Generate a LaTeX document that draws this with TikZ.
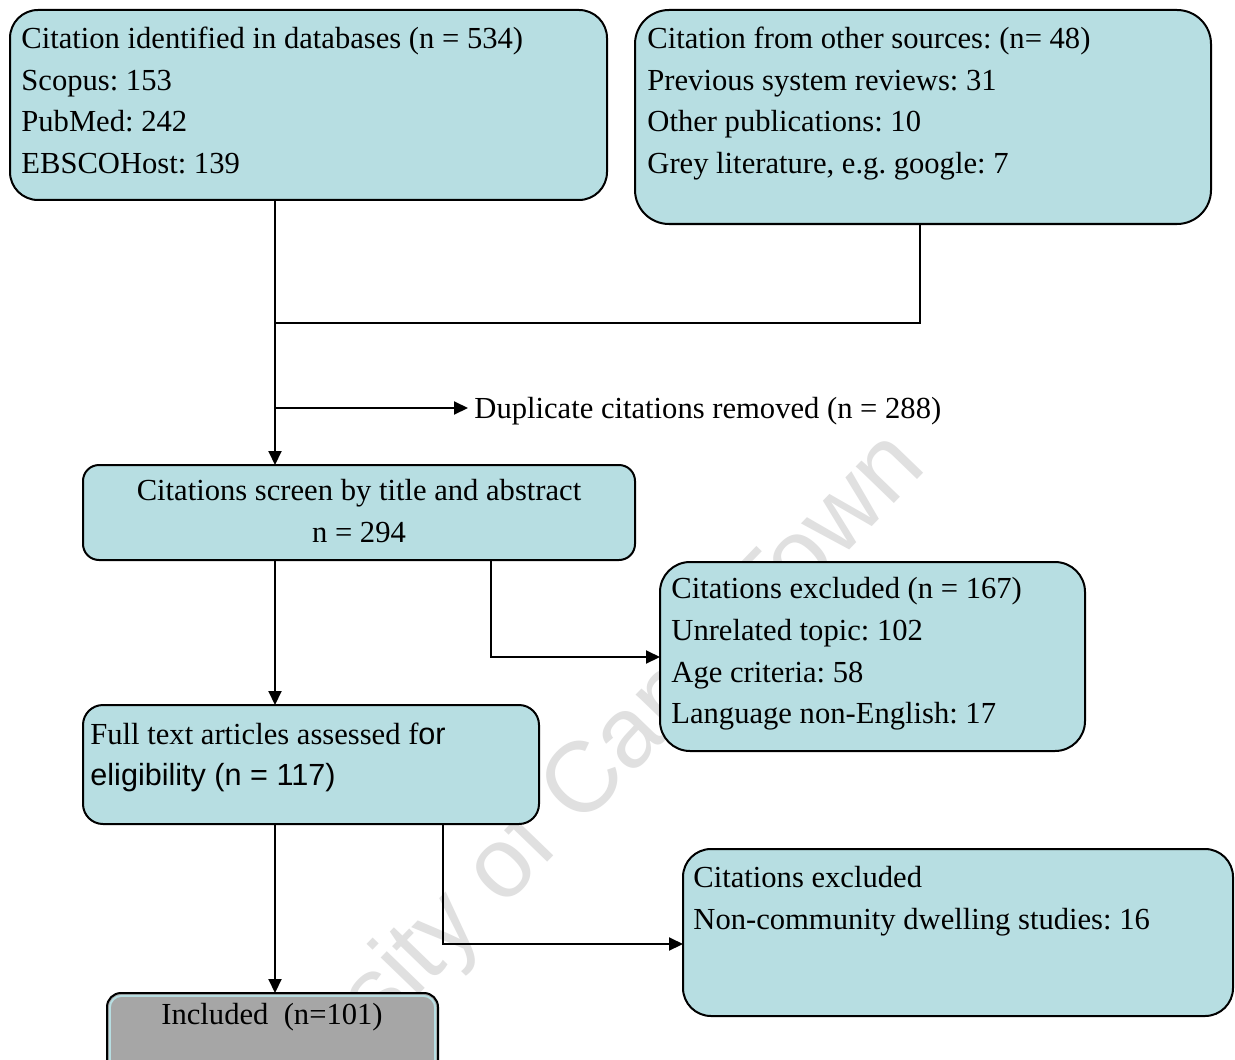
\documentclass[tikz,border=0pt]{standalone}
\usepackage{fontspec}
\setmainfont{Liberation Serif}
\newfontfamily\arialf{Liberation Sans}
\usetikzlibrary{arrows.meta}
\definecolor{boxfill}{HTML}{B7DEE2}
\definecolor{incfill}{HTML}{A6A6A6}
\definecolor{wmgray}{HTML}{E0E0E0}
\newcommand\mainsz{\fontsize{15.3}{18}\selectfont}
\frenchspacing
\begin{document}
\begin{tikzpicture}[x=0.5pt,y=-0.5pt,
  box/.style={draw=black, line width=1pt, fill=boxfill, inner sep=0pt, outer sep=0pt},
  ln/.style={inner sep=0pt, anchor=base west, font=\mainsz},
  lnc/.style={inner sep=0pt, anchor=base, font=\mainsz},
  conn/.style={line width=1pt, draw=black},
  arr/.style={conn, -{Triangle[length=7pt,width=6.5pt]}},
]
\clip (0,0) rectangle (1235,1059);
\fill[white] (0,0) rectangle (1235,1059);
% watermark
\node[font=\arialf\fontsize{50}{60}\selectfont, text=wmgray, rotate=46, inner sep=0pt] (wm) at (535,838) {University of Cape Town};
% boxes
\node[box, rounded corners=14pt, minimum width=298.5pt, minimum height=95pt] (b1) at (308.5,105) {};
\node[box, rounded corners=17pt, minimum width=288pt, minimum height=107pt] (b2) at (923,117) {};
\node[box, rounded corners=8pt, minimum width=276pt, minimum height=47.5pt] (b3) at (359,512.5) {};
\node[box, rounded corners=10pt, minimum width=228pt, minimum height=59.5pt] (b4) at (311,764.5) {};
\node[box, rounded corners=15pt, minimum width=212.5pt, minimum height=94.5pt] (b5) at (872.5,656.5) {};
\node[box, fill=incfill, rounded corners=7pt, minimum width=165.5pt, minimum height=48pt] (b6) at (272.5,1041) {};
\draw[boxfill, line width=1pt, rounded corners=6pt] ([xshift=1.4pt,yshift=-1.4pt]b6.north west) rectangle ([xshift=-1.4pt,yshift=1.4pt]b6.south east);
\node[box, rounded corners=14pt, minimum width=275pt, minimum height=83.5pt] (b7) at (958,932.5) {};
% texts
\node[ln] (t1a) at (21,49) {Citation identified in databases (n = 534)};
\node[ln] (t1b) at (21,91) {Scopus: 153};
\node[ln] (t1c) at (21,132) {PubMed: 242};
\node[ln] (t1d) at (21,174) {EBSCOHost: 139};
\node[ln] (t2a) at (647,49) {Citation from other sources: (n= 48)};
\node[ln] (t2b) at (647,91) {Previous system reviews: 31};
\node[ln] (t2c) at (647,132) {Other publications: 10};
\node[ln] (t2d) at (647,174) {Grey literature, e.g. google: 7};
\node[lnc] (t3a) at (359,500) {Citations screen by title and abstract};
\node[lnc] (t3b) at (359,542) {n = 294};
\node[ln] (t4a) at (90,744) {Full text articles assessed f{\arialf or}};
\node[ln] (t4b) at (90,785) {\arialf eligibility (n = 117)};
\node[ln] (t5a) at (671,598) {Citations excluded (n = 167)};
\node[ln] (t5b) at (671,640) {Unrelated topic: 102};
\node[ln] (t5c) at (671,682) {Age criteria: 58};
\node[ln] (t5d) at (671,723) {Language non-English: 17};
\node[lnc] (t6) at (272,1024) {Included~ (n=101)};
\node[ln] (t7a) at (693,887) {Citations excluded};
\node[ln] (t7b) at (693,929) {Non-community dwelling studies: 16};
\node[ln, inner xsep=3pt] (dup) at (468,418) {Duplicate citations removed (n = 288)};
% junction coordinates
\coordinate (trunk) at (275,0);
\coordinate (j1) at (275,323);
\coordinate (j2) at (920,323);
\coordinate (jd) at (275,408);
\coordinate (k1) at (491,657);
\coordinate (k2) at (443,944);
% connectors
\draw[arr] (b1.south -| trunk) -- (b3.north -| trunk);
\draw[conn] (b2.south -| j2) -- (j2) -- (j1);
\draw[arr] (jd) -- (jd -| dup.west);
\draw[arr] (b3.south -| trunk) -- (b4.north -| trunk);
\draw[arr] (b3.south -| k1) |- (b5.west |- k1);
\draw[arr] (b4.south -| trunk) -- (b6.north -| trunk);
\draw[arr] (b4.south -| k2) |- (b7.west |- k2);
\end{tikzpicture}
\end{document}
